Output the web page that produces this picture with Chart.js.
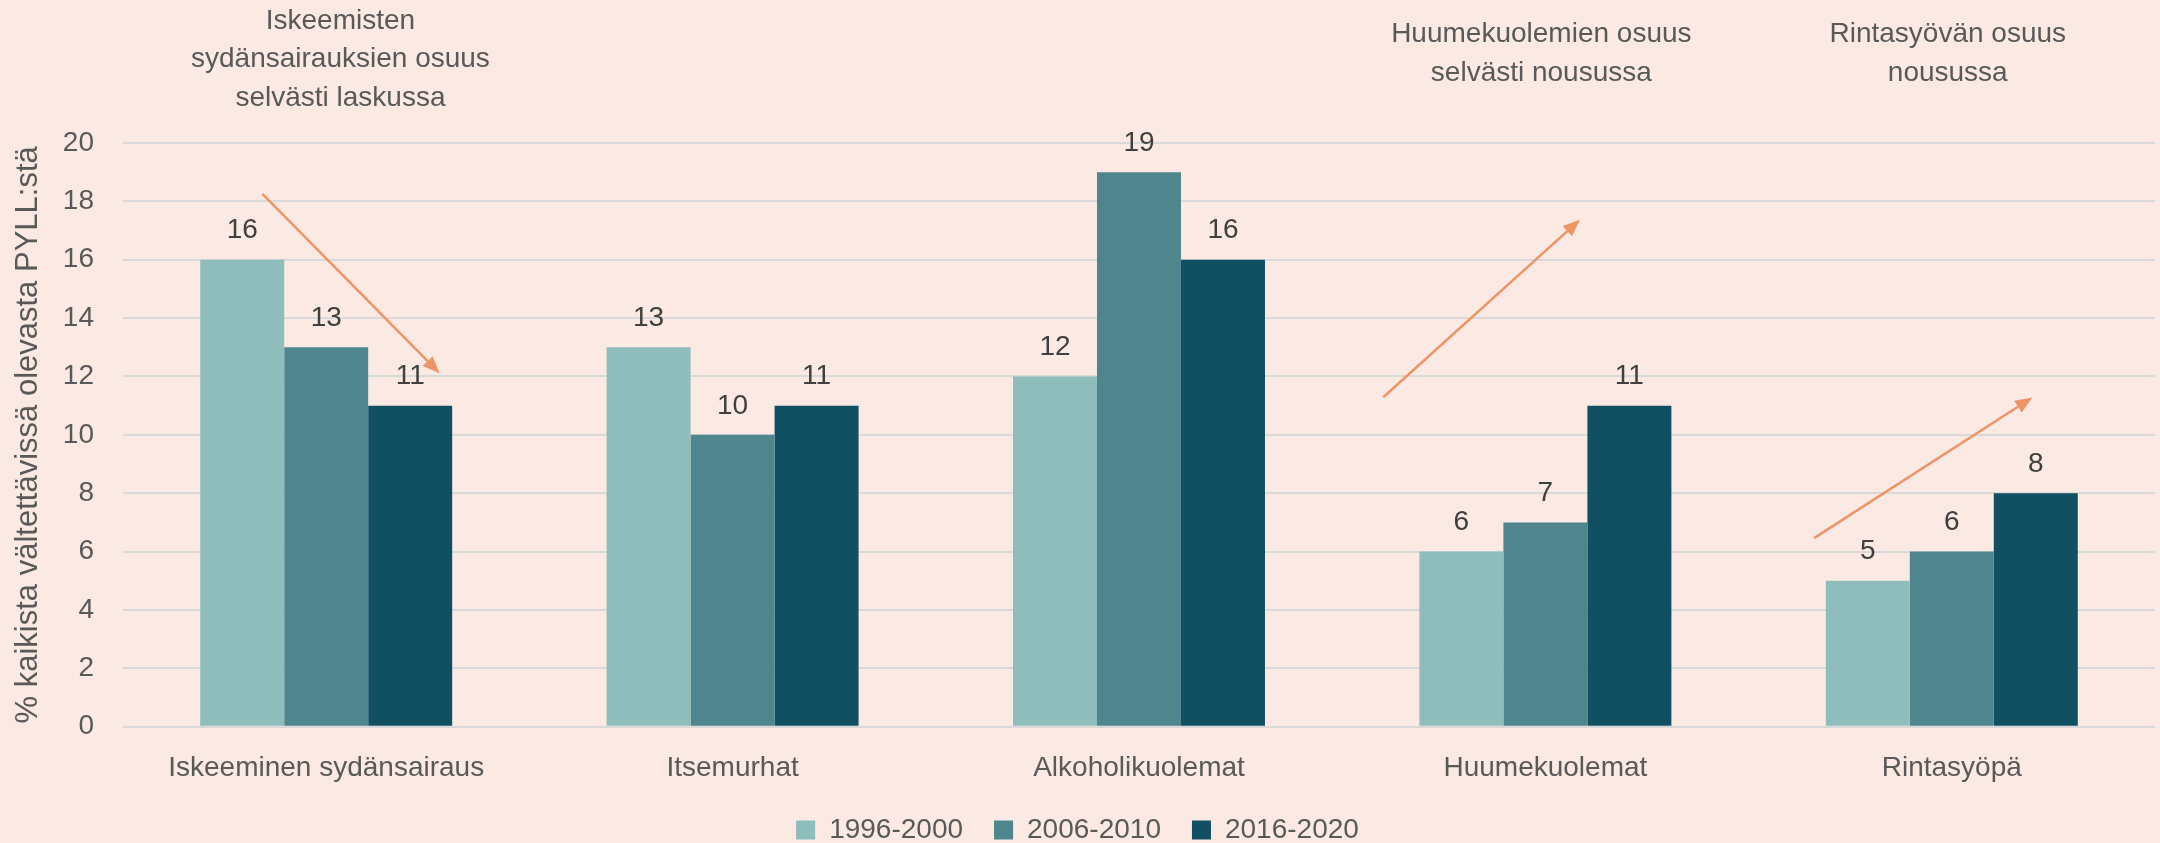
<!DOCTYPE html>
<html><head><meta charset="utf-8">
<script src="https://cdn.jsdelivr.net/npm/chart.js@4"></script>
<style>
html,body{margin:0;padding:0;background:#FAEAE3;overflow:hidden}
#wrap{width:2160px;height:843px;position:relative}
canvas{display:block}
</style></head><body><div id="wrap"><canvas id="c" width="2160" height="843"></canvas></div>
<script>
const categories = ['Iskeeminen sydänsairaus', 'Itsemurhat', 'Alkoholikuolemat', 'Huumekuolemat', 'Rintasyöpä'];
const seriesLabels = ['1996-2000', '2006-2010', '2016-2020'];
const values1996 = [16, 13, 12, 6, 5];
const values2006 = [13, 10, 19, 7, 6];
const values2016 = [11, 11, 16, 11, 8];
const seriesColors = ['#8FBDBC', '#4F868E', '#114F63'];
const yMin = 0, yMax = 20, yStep = 2;
const yTitle = '% kaikista vältettävissä olevasta PYLL:stä';

// Annotation notes (x in category units) and trend arrows (category index, value)
const noteLines = [
  ['Iskeemisten', 'sydänsairauksien osuus', 'selvästi laskussa'],
  ['Huumekuolemien osuus', 'selvästi nousussa'],
  ['Rintasyövän osuus', 'nousussa']
];
const noteX = [0.035, 2.99, 3.99];
const noteTopOffset = [-121.6, -108.3, -108.3];
const arrowFrom = [[-0.157, 18.26], [2.601, 11.29], [3.661, 6.46]];
const arrowTo = [[0.279, 12.11], [3.085, 17.37], [4.198, 11.28]];

const FONT = "'Liberation Sans', Arial, sans-serif";
const TXT = '#595959';

const bgPlugin = {
  id: 'bg',
  beforeDraw(chart) {
    const ctx = chart.ctx;
    ctx.save();
    ctx.fillStyle = '#FAEAE3';
    ctx.fillRect(0, 0, chart.width, chart.height);
    ctx.restore();
  }
};

const legendFit = {
  id: 'legendFit',
  beforeInit(chart) {
    const fit = chart.legend.fit;
    chart.legend.fit = function () { fit.bind(chart.legend)(); this.height = 58; };
  }
};

const valueLabels = {
  id: 'valueLabels',
  afterDatasetsDraw(chart) {
    const ctx = chart.ctx;
    ctx.save();
    ctx.font = '28px ' + FONT;
    ctx.fillStyle = '#404040';
    ctx.textAlign = 'center';
    ctx.textBaseline = 'middle';
    chart.data.datasets.forEach((ds, di) => {
      const meta = chart.getDatasetMeta(di);
      meta.data.forEach((bar, i) => {
        ctx.fillText(String(ds.data[i]), bar.x, bar.y - 29);
      });
    });
    ctx.restore();
  }
};

const notes = {
  id: 'notes',
  afterDraw(chart) {
    const ctx = chart.ctx;
    const xs = chart.scales.x, ys = chart.scales.y;
    ctx.save();
    ctx.font = '28px ' + FONT;
    ctx.fillStyle = TXT;
    ctx.textAlign = 'center';
    ctx.textBaseline = 'middle';
    noteLines.forEach((lines, k) => {
      const x = xs.getPixelForValue(noteX[k]);
      lines.forEach((t, j) => {
        ctx.fillText(t, x, chart.chartArea.top + noteTopOffset[k] + j * 38.3);
      });
    });
    ctx.strokeStyle = '#EF9466';
    ctx.fillStyle = '#EF9466';
    ctx.lineWidth = 2.5;
    arrowFrom.forEach((f, k) => {
      const x1 = xs.getPixelForValue(f[0]), y1 = ys.getPixelForValue(f[1]);
      const x2 = xs.getPixelForValue(arrowTo[k][0]), y2 = ys.getPixelForValue(arrowTo[k][1]);
      const ang = Math.atan2(y2 - y1, x2 - x1);
      const L = 17, W = 7;
      const bx = x2 - L * Math.cos(ang), by = y2 - L * Math.sin(ang);
      ctx.beginPath();
      ctx.moveTo(x1, y1);
      ctx.lineTo(bx, by);
      ctx.stroke();
      ctx.beginPath();
      ctx.moveTo(x2, y2);
      ctx.lineTo(bx + W * Math.sin(ang), by - W * Math.cos(ang));
      ctx.lineTo(bx - W * Math.sin(ang), by + W * Math.cos(ang));
      ctx.closePath();
      ctx.fill();
    });
    ctx.restore();
  }
};

Chart.defaults.font.family = FONT;
Chart.defaults.font.size = 28;
Chart.defaults.color = TXT;

new Chart(document.getElementById('c'), {
  type: 'bar',
  data: {
    labels: categories,
    datasets: [
      { label: seriesLabels[0], data: values1996, backgroundColor: seriesColors[0], borderWidth: 0 },
      { label: seriesLabels[1], data: values2006, backgroundColor: seriesColors[1], borderWidth: 0 },
      { label: seriesLabels[2], data: values2016, backgroundColor: seriesColors[2], borderWidth: 0 }
    ]
  },
  options: {
    responsive: false,
    animation: false,
    devicePixelRatio: 1,
    layout: { padding: { top: 143, right: 5, bottom: 0, left: 0 } },
    datasets: { bar: { categoryPercentage: 0.62, barPercentage: 1.0 } },
    plugins: {
      legend: {
        position: 'bottom',
        labels: { boxWidth: 19, boxHeight: 19, padding: 31, color: TXT, font: { size: 28, family: FONT } }
      },
      tooltip: { enabled: false }
    },
    scales: {
      x: {
        grid: { display: false, drawTicks: false, tickLength: 0 },
        border: { display: false },
        ticks: { padding: 24.5, color: TXT, font: { size: 28, family: FONT } },
        afterFit(scale) { scale.height = 58.3; }
      },
      y: {
        min: yMin, max: yMax,
        ticks: { stepSize: yStep, padding: 29, color: TXT, font: { size: 28, family: FONT } },
        grid: { color: '#D9D9D9', lineWidth: 2, drawTicks: false, tickLength: 0 },
        border: { display: false },
        title: { display: true, text: yTitle, color: TXT, font: { size: 31, family: FONT }, padding: { top: 10, bottom: 0 } },
        afterFit(scale) { scale.width = 123; }
      }
    }
  },
  plugins: [bgPlugin, legendFit, valueLabels, notes]
});
</script></body></html>
